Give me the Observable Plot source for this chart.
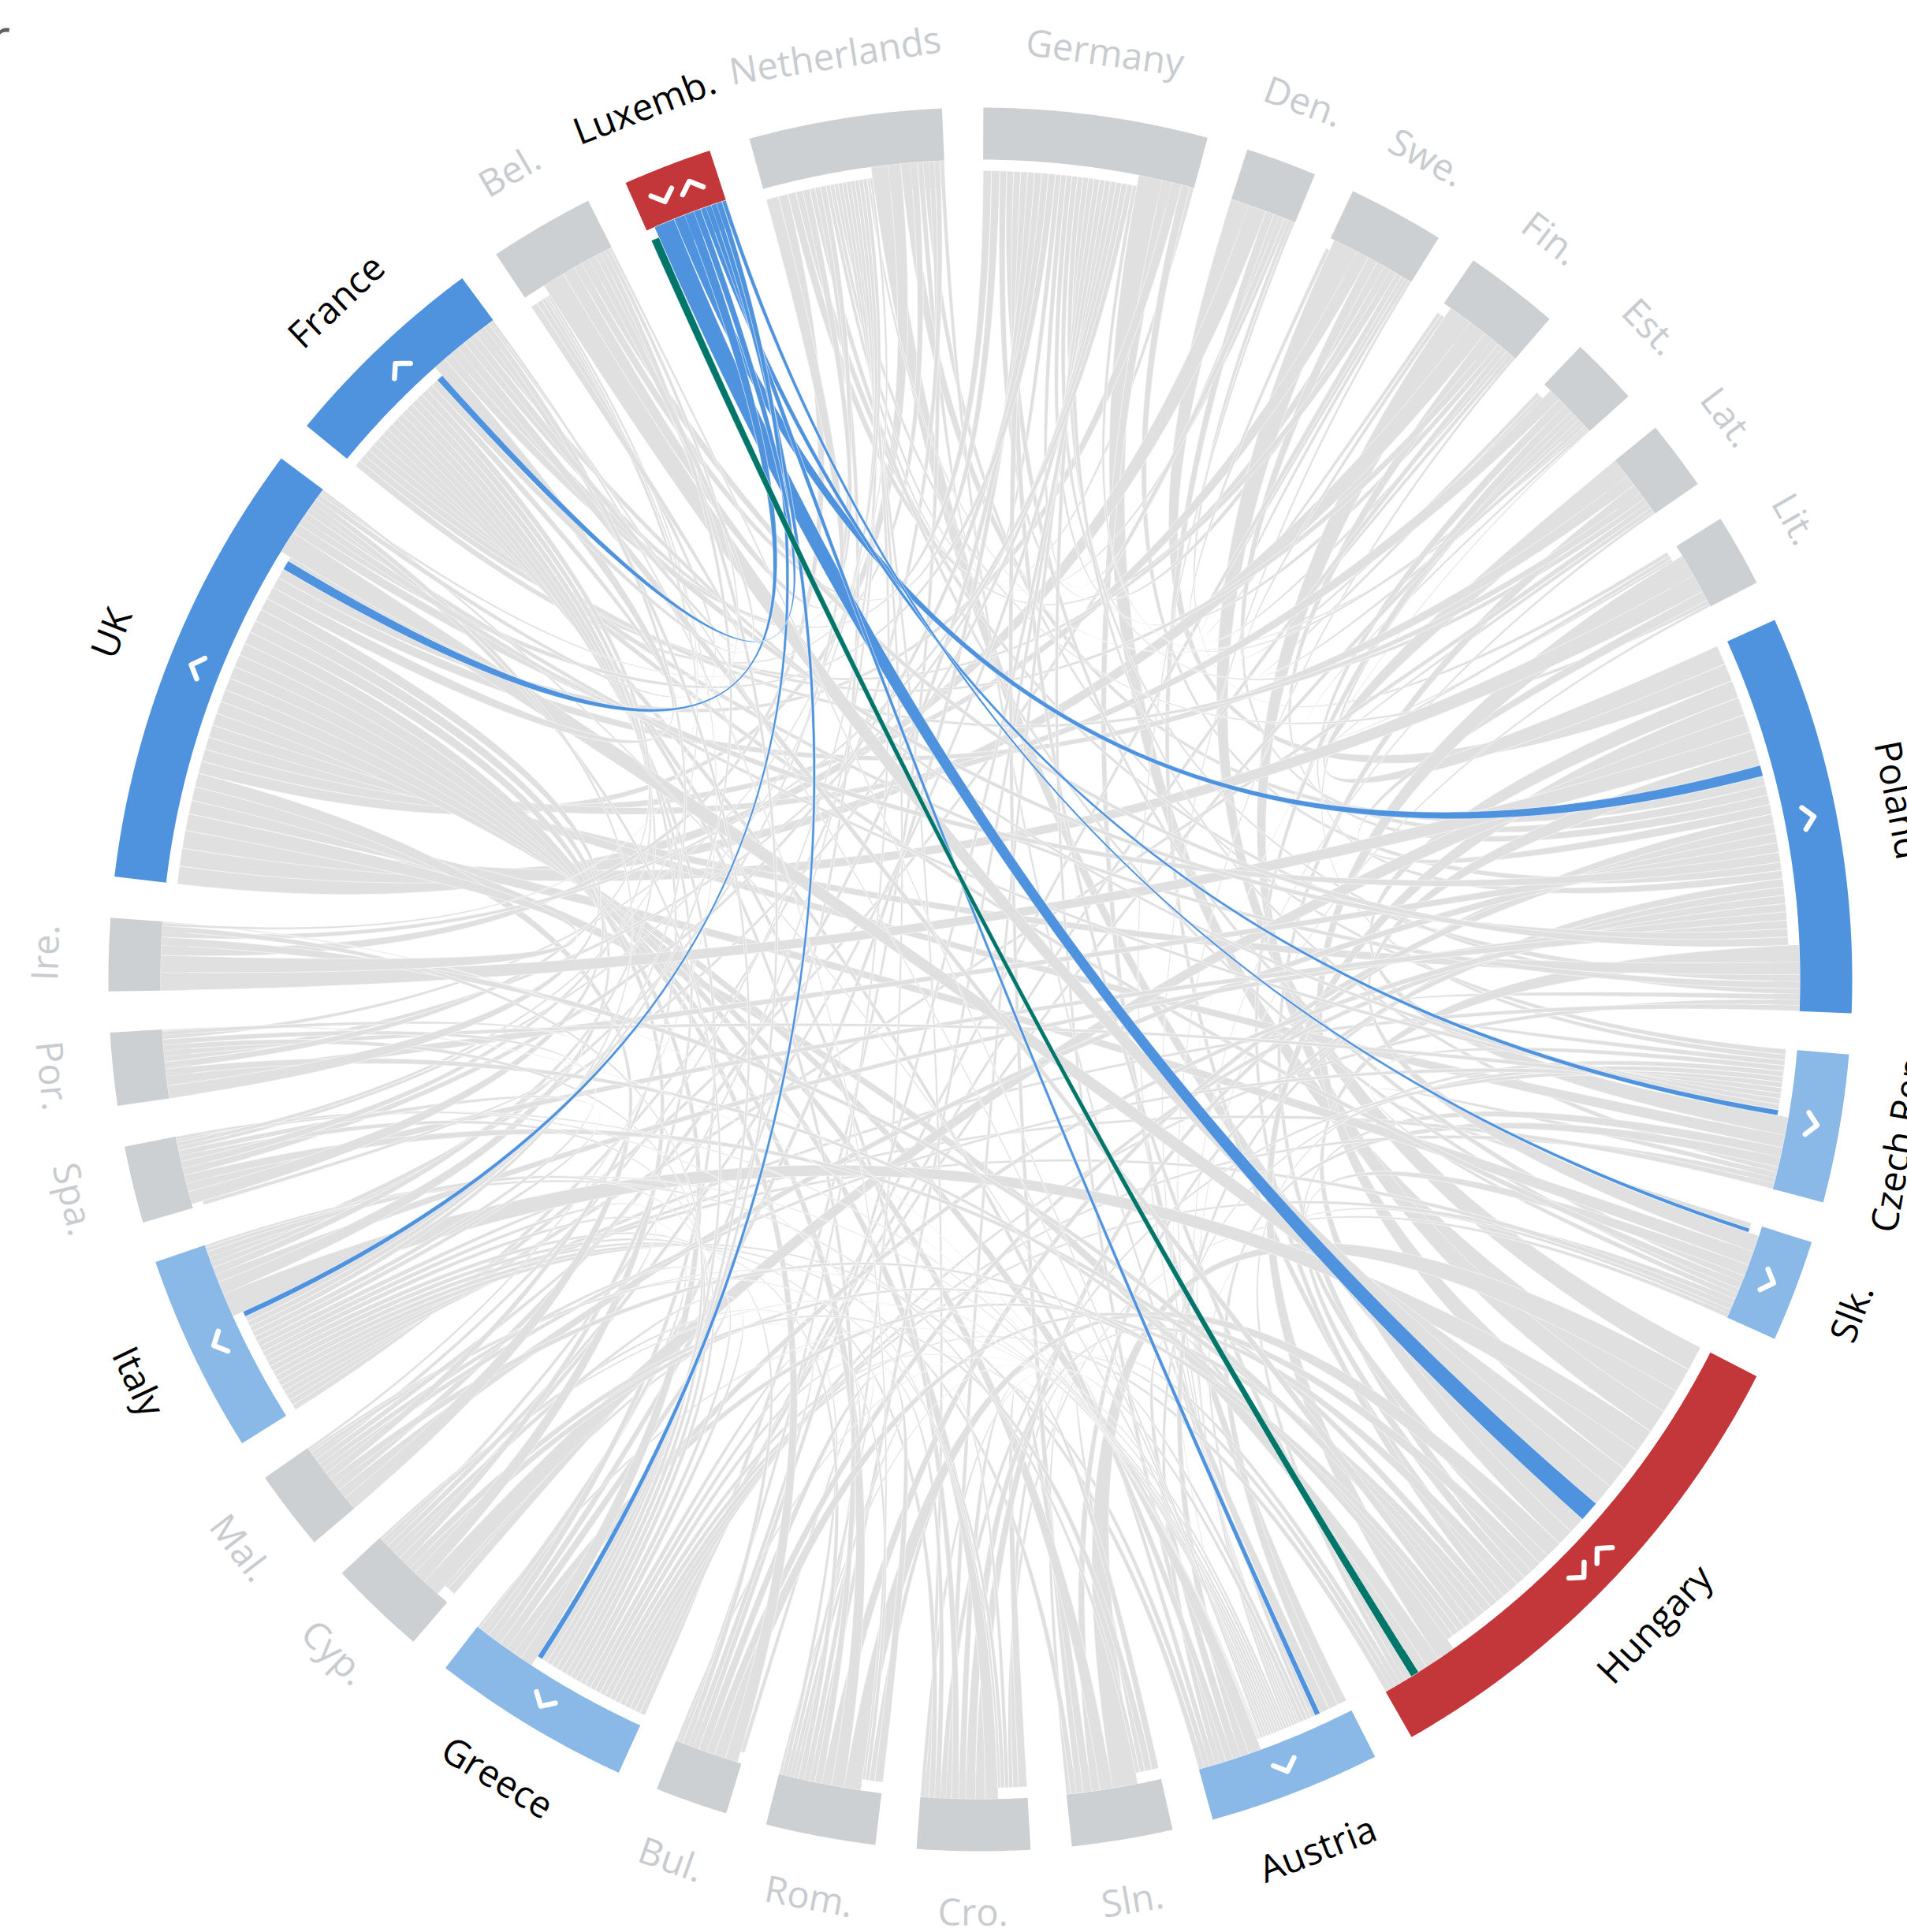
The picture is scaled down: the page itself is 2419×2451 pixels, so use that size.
<!DOCTYPE html>
<html>
<head>
<meta charset="utf-8">
<script src="https://cdn.jsdelivr.net/npm/d3@7"></script>
<script src="https://cdn.jsdelivr.net/npm/@observablehq/plot@0.6"></script>
<style>
  body { margin: 0; background: #fff; }
  #wrap { position: relative; width: 2419px; height: 2451px; overflow: hidden; }
  #title { position: absolute; left: -14px; top: 12px; font-family: "Open Sans", sans-serif; font-size: 66px; line-height: 66px; color: #606060; z-index: 2; white-space: nowrap; }
</style>
</head>
<body>
<div id="wrap"><div id="title">r</div></div>
<script>
// ---------- DATA ----------
const countries = ["Netherlands","Germany","Den.","Swe.","Fin.","Est.","Lat.","Lit.","Poland","Czech Rep.","Slk.","Hungary","Austria","Sln.","Cro.","Rom.","Bul.","Greece","Cyp.","Mal.","Italy","Spa.","Por.","Ire.","UK","France","Bel.","Luxemb."];
const focus = "Luxemb.";
// flows[source][target], rows and columns in the order of `countries`
const flows = [
  [0,4,0,0,0,0,0,0,7,4,0,12,3,0,0,0,0,4,0,0,4,0,0,0,9,5,0,0],
  [3,0,0,0,0,0,0,0,6,0,0,17,7,0,0,0,0,0,0,0,0,0,0,0,7,0,0,0],
  [3,4,0,0,0,0,0,3,13,0,0,6,2,0,0,0,0,0,0,0,4,0,0,0,13,0,0,0],
  [6,5,0,0,3,3,0,0,7,0,0,18,2,0,0,0,0,4,0,0,0,0,0,0,9,5,0,0],
  [0,4,0,3,0,3,0,0,7,0,0,17,2,0,0,0,0,4,0,0,0,0,0,0,13,5,0,0],
  [2,3,0,0,3,0,0,2,6,4,0,6,1,0,0,0,0,4,0,0,0,0,0,0,9,0,0,0],
  [0,4,0,0,0,0,0,3,14,0,0,7,2,0,0,0,0,0,0,0,4,0,0,0,8,5,0,0],
  [3,0,0,0,0,0,0,0,7,0,0,16,2,0,0,0,0,0,0,0,0,0,0,0,13,0,0,0],
  [5,4,0,0,0,0,0,0,0,4,0,12,0,0,0,0,0,4,0,0,4,0,0,0,9,5,0,0],
  [0,4,0,0,0,0,0,0,13,0,4,7,7,0,0,0,0,4,0,0,4,0,0,0,9,0,0,0],
  [4,5,0,0,0,0,0,0,12,4,0,8,3,0,3,0,0,4,0,0,4,0,0,0,10,5,0,0],
  [0,5,0,0,0,0,0,0,13,4,0,0,7,0,4,4,0,4,0,0,0,0,0,0,10,0,0,6],
  [0,4,0,0,0,0,0,0,6,4,0,6,0,4,0,0,0,4,0,0,4,0,0,0,9,5,0,0],
  [0,5,0,0,0,0,0,0,6,0,0,18,3,0,6,0,0,0,0,0,4,0,0,0,9,0,0,0],
  [3,4,0,0,0,0,0,0,7,4,0,7,3,5,0,0,0,4,0,0,4,0,0,0,9,5,0,0],
  [3,4,0,0,0,0,0,0,7,0,0,12,2,0,3,0,3,4,3,0,4,0,0,0,9,5,0,0],
  [3,4,0,0,0,0,0,0,6,0,0,8,2,0,0,6,0,4,0,0,4,0,0,0,9,0,0,0],
  [4,5,0,0,0,0,0,0,6,0,0,6,2,0,0,0,0,0,6,0,4,0,0,0,9,5,0,0],
  [3,4,0,0,0,0,0,0,13,0,0,5,2,5,0,3,0,4,0,0,4,0,0,0,9,5,0,0],
  [3,5,0,0,0,0,0,0,7,4,0,5,2,0,3,0,0,4,0,0,4,0,0,0,10,5,2,0],
  [4,4,0,0,0,0,0,0,6,0,0,17,2,3,0,0,0,4,0,0,0,0,0,0,9,5,0,0],
  [3,5,0,0,0,0,0,0,6,0,0,6,2,0,2,0,0,4,0,0,4,0,0,0,9,5,3,0],
  [3,4,0,0,0,0,0,0,7,4,0,5,1,0,0,0,0,4,0,0,4,3,0,0,9,5,0,0],
  [7,4,0,0,0,0,0,0,13,0,0,6,1,0,0,0,0,4,0,0,0,0,0,0,12,0,2,0],
  [2,5,0,0,0,0,0,0,7,4,0,16,2,0,0,0,0,4,0,0,4,0,0,0,0,5,4,0],
  [5,6,0,0,0,0,0,0,6,4,0,6,2,0,0,2,0,4,0,0,4,0,0,0,9,0,5,0],
  [9,6,0,0,0,0,0,0,6,0,0,16,2,0,0,0,0,4,0,0,4,0,0,0,3,5,0,0],
  [0,0,0,0,0,0,0,0,8,4,3,15,4,0,0,0,0,4,0,0,4,0,0,0,7,5,0,0]
];

// ---------- LAYOUT (geometry) ----------
const W = 2419, H = 2451, CX = 1243, CY = 1242;
const R_OUT = 1106, R_IN = 1040, R_TGT = 1026, R_MARK = 1071, R_LABEL = 1185;
const DEG = Math.PI / 180;
const PAD = 2.72 * DEG;
const N = countries.length;
const F = countries.indexOf(focus);

const inSum = countries.map((_, j) => d3.sum(flows, row => row[j]));
const outSum = flows.map(row => d3.sum(row));
const total = d3.sum(inSum) + d3.sum(outSum);
const k = (2 * Math.PI - N * PAD) / total;

let a = 0.2 * DEG - PAD - (inSum[0] + outSum[0]) * k;
const groups = countries.map((name, i) => {
  const g = {i, name, a0: a, inEnd: a + inSum[i] * k};
  g.a1 = g.inEnd + outSum[i] * k;
  a = g.a1 + PAD;
  return g;
});

// sub-angles: incoming first (inset), then outgoing (flush); each sorted descending
const srcAng = {}, tgtAng = {};
groups.forEach(g => {
  const ins = d3.range(N).filter(s => flows[s][g.i] > 0)
    .sort((p, q) => flows[q][g.i] - flows[p][g.i] || p - q);
  let x = g.a0;
  ins.forEach(s => { const w = flows[s][g.i] * k; tgtAng[s + "-" + g.i] = [x, x + w]; x += w; });
  const outs = d3.range(N).filter(t => flows[g.i][t] > 0)
    .sort((p, q) => flows[g.i][q] - flows[g.i][p] || p - q);
  x = g.inEnd;
  outs.forEach(t => { const w = flows[g.i][t] * k; srcAng[g.i + "-" + t] = [x, x + w]; x += w; });
});

const P = (ang, r) => [r * Math.sin(ang), -r * Math.cos(ang)];
function arcPts(a0, a1, r) {
  const n = Math.max(2, Math.ceil(Math.abs(a1 - a0) / 0.004) + 1);
  return d3.range(n).map(i => P(a0 + (a1 - a0) * i / (n - 1), r));
}
function bez(p0, p2, n = 60) {
  return d3.range(1, n).map(i => { const t = i / n, u = (1 - t) * (1 - t), c = t * t; return [u * p0[0] + c * p2[0], u * p0[1] + c * p2[1]]; });
}

const grayPts = [], bluePts = [], tealPts = [];
for (let s = 0; s < N; s++) for (let t = 0; t < N; t++) {
  if (!(flows[s][t] > 0)) continue;
  const [s0, s1] = srcAng[s + "-" + t], [t0, t1] = tgtAng[s + "-" + t];
  const pts = [
    ...arcPts(s0, s1, R_IN),
    ...bez(P(s1, R_IN), P(t0, R_TGT)),
    ...arcPts(t0, t1, R_TGT),
    ...bez(P(t1, R_TGT), P(s0, R_IN))
  ];
  const id = s + "-" + t;
  const target = s === F ? bluePts : t === F ? tealPts : grayPts;
  pts.forEach(([x, y]) => target.push({id, x, y}));
}

// status relative to the focus country, derived from the flows
const status = countries.map((c, i) => {
  if (i === F) return "both";
  const out = flows[F][i], back = flows[i][F];
  if (out > 0 && back > 0) return "both";
  if (out >= 5) return "strong";
  if (out > 0) return "weak";
  return "none";
});
const bandColor = {none: "#cdd0d3", weak: "#8ab9e8", strong: "#4f93de", both: "#c3373a"};

const bandPts = [];
groups.forEach(g => {
  const pts = [...arcPts(g.a0, g.a1, R_OUT), ...arcPts(g.a1, g.a0, R_IN)];
  pts.forEach(([x, y]) => bandPts.push({id: g.i, x, y, color: bandColor[status[g.i]]}));
});

// chevrons
const chevPts = [];
function chevron(id, ang, offset, dir) {
  const c = P(ang, R_MARK), tng = [Math.cos(ang), Math.sin(ang)], out = [Math.sin(ang) * dir, -Math.cos(ang) * dir];
  const cx = c[0] + tng[0] * offset, cy = c[1] + tng[1] * offset;
  const h = 13, w = 14;
  chevPts.push({id, x: cx - out[0] * h / 2 - tng[0] * w, y: cy - out[1] * h / 2 - tng[1] * w});
  chevPts.push({id, x: cx + out[0] * h / 2, y: cy + out[1] * h / 2});
  chevPts.push({id, x: cx - out[0] * h / 2 + tng[0] * w, y: cy - out[1] * h / 2 + tng[1] * w});
}
groups.forEach(g => {
  const mid = (g.a0 + g.a1) / 2;
  if (status[g.i] === "both") { chevron(g.i + "in", mid, -19, -1); chevron(g.i + "out", mid, 19, 1); }
  else if (status[g.i] !== "none") chevron(g.i + "out", mid, 0, 1);
});

const labels = groups.map(g => {
  const mid = (g.a0 + g.a1) / 2;
  let md = ((mid / DEG) % 360 + 360) % 360;
  const rot = (md > 90 && md < 270) ? md - 180 : md;
  const [x, y] = P(mid, R_LABEL);
  return {x, y, text: g.name, rot, color: status[g.i] === "none" ? "#c8ccd0" : "#000000"};
});

const chart = Plot.plot({
  width: W, height: H,
  margin: 0,
  x: {domain: [-CX, W - CX], range: [0, W], axis: null},
  y: {domain: [-CY, H - CY], range: [0, H], axis: null},
  color: {type: "identity"},
  style: {background: "white"},
  marks: [
    Plot.line(grayPts, {x: "x", y: "y", z: "id", fill: "#e0e0e0", stroke: "#ffffff", strokeWidth: 0.6, curve: "linear"}),
    Plot.line(bandPts, {x: "x", y: "y", z: "id", fill: "color", stroke: "none", curve: "linear"}),
    Plot.line(bluePts, {x: "x", y: "y", z: "id", fill: "#4f93de", stroke: "#ffffff", strokeWidth: 0.6, curve: "linear"}),
    Plot.line(tealPts, {x: "x", y: "y", z: "id", fill: "#00766b", stroke: "#ffffff", strokeWidth: 0.6, curve: "linear"}),
    Plot.line(chevPts, {x: "x", y: "y", z: "id", stroke: "#ffffff", strokeWidth: 6.5, strokeLinecap: "round", strokeLinejoin: "round", fill: "none", curve: "linear"}),
    Plot.text(labels, {x: "x", y: "y", text: "text", rotate: "rot", fill: "color", fontSize: 47, fontFamily: "Open Sans", textAnchor: "middle", lineAnchor: "middle"})
  ]
});
document.getElementById("wrap").appendChild(chart);
</script>
</body>
</html>
